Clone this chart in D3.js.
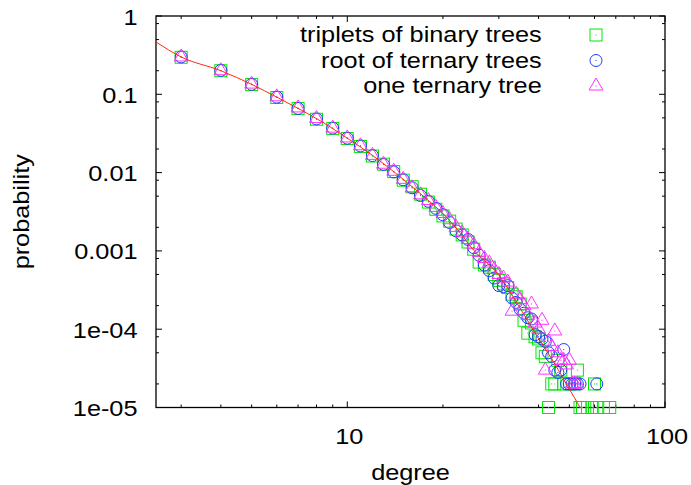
<!DOCTYPE html>
<html><head><meta charset="utf-8">
<script src="https://cdn.jsdelivr.net/npm/d3@7/dist/d3.min.js"></script>
<style>body{margin:0;background:#fff}svg{display:block}</style>
</head><body>
<svg id="chart" width="691" height="485"></svg>
<script>
// ---- data ----
const xTickLabels = ["10", "100"];
const xTickValues = [10, 100];
const yTickLabels = ["1", "0.1", "0.01", "0.001", "1e-04", "1e-05"];
const yTickValues = [1, 0.1, 0.01, 0.001, 1e-4, 1e-5];
const seriesNames = ["triplets of binary trees", "root of ternary trees", "one ternary tree"];

const tripletsDeg = [3,4,5,6,7,8,9,10,11,12,13,14,15,16,17,18,19,20,21,22,23,24,25,26,27,28,29,30,31,32,33,34,35,36,37,38,39,40,41,42,43,44,45,46,47,48,50,52,53,54,55,57,59,60,61,64,67];
const tripletsProb = [0.297,0.200,0.133,0.091,0.066,0.048,0.0365,0.0272,0.0216,0.0163,0.0128,0.0103,0.0080,0.0066,0.0053,0.0042,0.0034,0.0028,0.0024,0.0019,0.0016,0.0013,0.00105,0.00072,0.00066,0.00062,0.00050,0.00042,0.00038,0.00034,0.00028,0.00026,0.00021,0.00013,0.000089,0.00012,0.00008,0.000075,0.00005,0.000045,0.00001,0.00002,0.00002,0.00004,0.00003,0.00002,0.00002,0.00002,0.00003,0.00001,0.00001,0.00001,0.00001,0.00002,0.00001,0.00001,0.00001];

const rootDeg = [3,4,5,6,7,8,9,10,11,12,13,14,15,16,17,18,19,20,21,22,23,24,25,26,27,28,29,30,31,32,33,34,35,36,37,38,39,40,41,42,43,44,45,46,47,48,49,50,51,52,53,54,61];
const rootProb = [0.300,0.202,0.134,0.092,0.066,0.0485,0.037,0.0275,0.0219,0.0165,0.0127,0.0102,0.0081,0.0064,0.0051,0.0043,0.0035,0.0029,0.0023,0.0018,0.0016,0.0014,0.0011,0.00088,0.00066,0.00056,0.00045,0.00036,0.00035,0.00036,0.00025,0.00022,0.00018,0.00016,0.00014,0.000135,0.000085,0.00008,0.000075,0.00007,0.00005,0.000045,0.00003,0.000028,0.00003,0.000055,0.00002,0.00002,0.00002,0.00002,0.00002,0.00002,0.00002];

const oneDeg = [3,4,5,6,7,8,9,10,11,12,13,14,15,16,17,18,19,20,21,22,23,24,25,26,27,28,29,30,31,32,33,34,35,36,37,38,39,40,41,42,43,44,45,46,47,48,49,50,51,52,53];
const oneProb = [0.300,0.200,0.135,0.093,0.067,0.049,0.037,0.0277,0.0220,0.0166,0.0128,0.0104,0.0082,0.0064,0.0052,0.0044,0.0036,0.0030,0.0025,0.0020,0.0017,0.0014,0.0012,0.00095,0.00080,0.00070,0.00058,0.00050,0.00045,0.00040,0.00017,0.00028,0.00024,0.00020,0.00015,0.00021,0.00012,0.00010,0.00013,0.00003,0.00007,0.00006,0.000095,0.00005,0.00004,0.00004,0.000035,0.00004,0.00002,0.00002,0.00002];

const fitDeg = [2.5,3,4,5,6,7,8,10,12,15,18,20,22,25,30,35,40,45,50,54,56];
const fitProb = [0.466,0.30,0.200,0.134,0.092,0.066,0.049,0.0275,0.0166,0.0082,0.0044,0.0030,0.00196,0.00102,0.00049,0.000185,0.000076,0.000036,0.0000172,0.00001,0.0000075];

// ---- layout ----
const svg = d3.select("#chart");
const L = 156, R = 665, T = 16, B = 407.5;
const x = d3.scaleLog().domain([2.5, 100]).range([L, R]);
const y = d3.scaleLog().domain([1e-5, 1]).range([B, T]);
const FONT = "'Liberation Sans', Arial, Helvetica, sans-serif";
const FS = 22, SX = 1.15;

svg.append("defs").append("clipPath").attr("id", "clip")
  .append("rect").attr("x", L).attr("y", T).attr("width", R - L).attr("height", B - T);

// ticks
const ticksG = svg.append("g").attr("stroke", "#000").attr("stroke-width", 1);
const yMinor = [];
for (let k = -5; k < 0; k++) [2, 5, 8].forEach(m => yMinor.push(m * Math.pow(10, k)));
const xMinor = [3,4,5,6,7,8,9,20,30,40,50,60,70,80,90];
yTickValues.forEach(v => {
  ticksG.append("line").attr("x1", L).attr("x2", L + 6).attr("y1", y(v)).attr("y2", y(v));
  ticksG.append("line").attr("x1", R).attr("x2", R - 6).attr("y1", y(v)).attr("y2", y(v));
});
yMinor.forEach(v => {
  ticksG.append("line").attr("x1", L).attr("x2", L + 3).attr("y1", y(v)).attr("y2", y(v));
  ticksG.append("line").attr("x1", R).attr("x2", R - 3).attr("y1", y(v)).attr("y2", y(v));
});
xTickValues.forEach(v => {
  ticksG.append("line").attr("x1", x(v)).attr("x2", x(v)).attr("y1", B).attr("y2", B - 6);
  ticksG.append("line").attr("x1", x(v)).attr("x2", x(v)).attr("y1", T).attr("y2", T + 6);
});
xMinor.forEach(v => {
  ticksG.append("line").attr("x1", x(v)).attr("x2", x(v)).attr("y1", B).attr("y2", B - 3);
  ticksG.append("line").attr("x1", x(v)).attr("x2", x(v)).attr("y1", T).attr("y2", T + 3);
});

// border
svg.append("rect").attr("x", L).attr("y", T).attr("width", R - L).attr("height", B - T)
  .attr("fill", "none").attr("stroke", "#000").attr("stroke-width", 1.3);

function txt(px, py, s, anchor, rot) {
  svg.append("text")
    .attr("transform", `translate(${px},${py})` + (rot ? ` rotate(${rot})` : "") + ` scale(${SX},1)`)
    .attr("text-anchor", anchor)
    .attr("font-family", FONT).attr("font-size", FS).attr("fill", "#000")
    .text(s);
}
yTickValues.forEach((v, i) => txt(137.5, y(v) + 8.5, yTickLabels[i], "end"));
xTickValues.forEach((v, i) => txt(x(v) + 2, 443.5, xTickLabels[i], "middle"));
txt((L + R) / 2, 479.5, "degree", "middle");
txt(29, (T + B) / 2, "probability", "middle", -90);

// symbols
const s = 6;
function square(g, cx, cy, c) {
  g.append("rect").attr("x", cx - s).attr("y", cy - s).attr("width", 2 * s).attr("height", 2 * s)
    .attr("fill", "none").attr("stroke", c);
}
function circle(g, cx, cy, c) {
  g.append("circle").attr("cx", cx).attr("cy", cy).attr("r", s).attr("fill", "none").attr("stroke", c);
}
function triangle(g, cx, cy, c) {
  const h = s * 1.33, w = s * 1.15;
  g.append("path").attr("d", `M${cx},${cy - h}L${cx + w},${cy + s * 0.67}L${cx - w},${cy + s * 0.67}Z`)
    .attr("fill", "none").attr("stroke", c);
}
function dot(g, cx, cy, c) {
  g.append("rect").attr("x", cx - 0.5).attr("y", cy - 0.5).attr("width", 1).attr("height", 1).attr("fill", c);
}
const colors = ["#00e800", "#1a3cff", "#ff33ff"];
const shapes = [square, circle, triangle];
const degs = [tripletsDeg, rootDeg, oneDeg];
const probs = [tripletsProb, rootProb, oneProb];

degs.forEach((dd, si) => {
  const g = svg.append("g").attr("stroke-width", 1);
  dd.forEach((d, i) => {
    const cx = x(d), cy = y(probs[si][i]);
    shapes[si](g, cx, cy, colors[si]);
    dot(g, cx, cy, colors[si]);
  });
});

// fit line
const line = d3.line().x((d, i) => x(fitDeg[i])).y((d, i) => y(fitProb[i])).curve(d3.curveMonotoneX);
svg.append("path").attr("clip-path", "url(#clip)").attr("d", line(fitDeg))
  .attr("fill", "none").attr("stroke", "#ff2a10").attr("stroke-width", 1);

// legend
const legY = [35, 60.5, 86];
seriesNames.forEach((n, i) => {
  txt(541.7, legY[i] + 7, n, "end");
  const g = svg.append("g").attr("stroke-width", 1);
  shapes[i](g, 596, legY[i], colors[i]);
  dot(g, 596, legY[i], colors[i]);
});
</script>
</body></html>
